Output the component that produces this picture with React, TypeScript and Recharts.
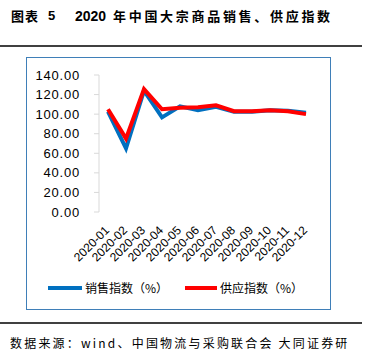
import { LineChart, Line, XAxis, YAxis } from 'recharts';

const months = ['2020-01', '2020-02', '2020-03', '2020-04', '2020-05', '2020-06', '2020-07', '2020-08', '2020-09', '2020-10', '2020-11', '2020-12'];
const salesIndex = [102.5, 65, 124, 96.7, 108, 104, 107.5, 102.5, 102.5, 104, 103.5, 101.5];
const supplyIndex = [105, 75, 125.5, 105, 106.5, 107, 109, 103, 103, 104, 103, 100];
const yTicks = [0, 20, 40, 60, 80, 100, 120, 140];

const BLUE = '#0070C0';
const RED = '#FF0000';
const CJK = '"Noto Sans CJK SC", "Liberation Sans", sans-serif';
const LATIN = '"Liberation Sans", Arial, sans-serif';

const data = months.map((m, i) => ({ x: i + 0.5, label: m, sales: salesIndex[i], supply: supplyIndex[i] }));

const MonthTick = ({ x, y, payload }: any) => {
  const i = Math.round(payload.value - 0.5);
  return (
    <text
      transform={`translate(${x + 2},${y + 19}) rotate(-45)`}
      textAnchor="end"
      fontSize={12}
      fontFamily={LATIN}
      fill="#000"
    >
      {months[i]}
    </text>
  );
};

export default function App() {
  const titulo = { position: 'absolute' as const, top: 7, fontSize: 13, fontWeight: 700, whiteSpace: 'nowrap' as const, lineHeight: '18px' };
  return (
    <div style={{ position: 'absolute', left: 0, top: 0, width: 369, height: 362, background: '#fff', fontFamily: CJK }}>
      {/* titulo */}
      <div style={{ ...titulo, left: 11, letterSpacing: 1 }}>图表</div>
      <div style={{ ...titulo, left: 48, fontFamily: LATIN }}>5</div>
      <div style={{ ...titulo, left: 75, fontFamily: LATIN, fontSize: 14 }}>2020</div>
      <div style={{ ...titulo, left: 113, letterSpacing: 2.7 }}>年中国大宗商品销售、供应指数</div>
      <div style={{ position: 'absolute', left: 0, top: 45, width: 362, height: 2, background: '#404040' }} />

      <div style={{ position: 'absolute', left: 26, top: 57, width: 303, height: 251, border: '1.5px solid #3f7fb8' }} />

      <div style={{ position: 'absolute', left: 0, top: 0 }}>
        <LineChart width={369} height={362} data={data} margin={{ top: 75, right: 54, left: 39, bottom: 90 }}>
          <XAxis
            xAxisId="main"
            type="number"
            dataKey="x"
            domain={[0, 12]}
            ticks={[0, 1, 2, 3, 4, 5, 6, 7, 8, 9, 10, 11, 12]}
            tick={false}
            height={0}
            tickSize={5}
            stroke="#d9d9d9"
          />
          <XAxis
            xAxisId="lab"
            type="number"
            dataKey="x"
            domain={[0, 12]}
            ticks={data.map((d) => d.x)}
            tick={<MonthTick />}
            axisLine={false}
            tickLine={false}
            tickSize={0}
            tickMargin={0}
            height={60}
            interval={0}
          />
          <YAxis
            domain={[0, 140]}
            ticks={yTicks}
            interval={0}
            width={60}
            stroke="#d9d9d9"
            tickSize={5}
            tickMargin={14}
            tickFormatter={(v: number) => v.toFixed(2)}
            tick={{ fill: '#000', fontSize: 13, fontFamily: LATIN, letterSpacing: 0.8 }}
          />
          <Line xAxisId="main" type="linear" dataKey="sales" stroke={BLUE} strokeWidth={4} dot={false} isAnimationActive={false} />
          <Line xAxisId="main" type="linear" dataKey="supply" stroke={RED} strokeWidth={4} dot={false} isAnimationActive={false} />
        </LineChart>
      </div>

      {/* leyenda */}
      <div style={{ position: 'absolute', left: 48, top: 286, width: 34, height: 4, background: BLUE }} />
      <div style={{ position: 'absolute', left: 85, top: 279, fontSize: 12, lineHeight: '18px', whiteSpace: 'nowrap' }}>销售指数（%）</div>
      <div style={{ position: 'absolute', left: 185, top: 286, width: 32, height: 4, background: RED }} />
      <div style={{ position: 'absolute', left: 220, top: 279, fontSize: 12, lineHeight: '18px', whiteSpace: 'nowrap' }}>供应指数（%）</div>

      <div style={{ position: 'absolute', left: 0, top: 322, width: 362, height: 2, background: '#404040' }} />
      <div style={{ position: 'absolute', left: 10, top: 334, fontSize: 12, lineHeight: '18px', whiteSpace: 'nowrap', letterSpacing: 2.2 }}>
        数据来源：wind、中国物流与采购联合会 大同证券研
      </div>
    </div>
  );
}
